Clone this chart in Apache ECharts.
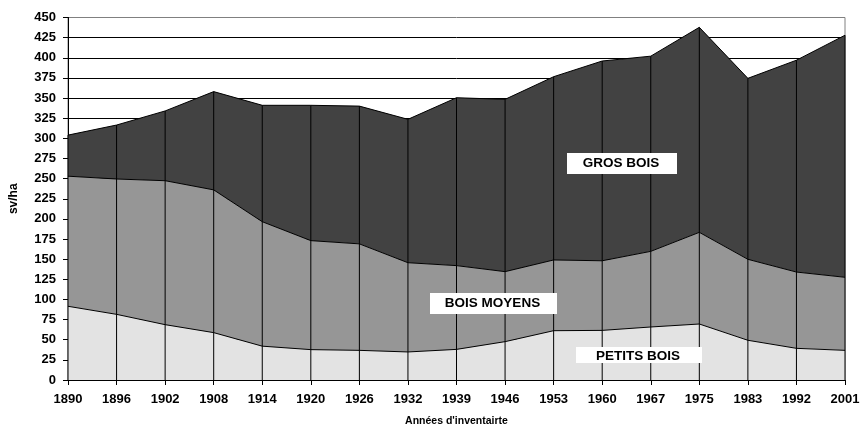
<!DOCTYPE html>
<html><head><meta charset="utf-8">
<script src="https://cdn.jsdelivr.net/npm/echarts@6/dist/echarts.min.js"></script>
<style>html,body{margin:0;padding:0;background:#fff}#c{width:860px;height:425px}</style>
</head><body><div id="c"></div>
<script>
const years = ['1890','1896','1902','1908','1914','1920','1926','1932','1939','1946','1953','1960','1967','1975','1983','1992','2001'];
const petitsBois = [91.5,81.5,68.7,58.8,42,37.7,36.8,34.8,38,47.6,61.2,61.6,65.8,69.5,49.3,39.3,36.8];
const boisMoyens = [161.5,168,178.7,177.2,154.5,135.3,132.2,110.8,104,86.9,87.8,86.4,93.9,113.8,100.5,94.7,90.7];
const grosBois = [51,67,86.6,122,144.5,168,171,178,208.4,213.9,227.5,248,242.3,254.5,224.7,263,300.5];
const seriesNames = ['PETITS BOIS','BOIS MOYENS','GROS BOIS'];
const yTicks = {min:0,max:450,interval:25};

const totals = years.map((_,i)=>petitsBois[i]+boisMoyens[i]+grosBois[i]);
const font = '"Liberation Sans", Arial, sans-serif';
const chart = echarts.init(document.getElementById('c'));

function areaSeries(name, data, color){
  return {name, type:'line', stack:'t', data, symbol:'none', smooth:false,
    lineStyle:{color:'#000', width:1}, areaStyle:{color, opacity:1}, z:2, silent:true};
}

function labelBox(x,y,w,h,text,tx,ty){
  return [{type:'rect', shape:{x,y,width:w,height:h}, style:{fill:'#fff'}, z:10},
    {type:'text', x:tx, y:ty, style:{text, font:'bold 13.5px '+font, fill:'#000', align:'center', verticalAlign:'middle'}, z:11}];
}

chart.setOption({
  animation:false,
  grid:{left:68, right:15, top:17.5, bottom:45, show:true, borderColor:'#808080', borderWidth:1, backgroundColor:'transparent', containLabel:false, outerBoundsMode:'none'},
  xAxis:{type:'category', data:years, boundaryGap:false,
    axisLine:{lineStyle:{color:'#000', width:1}},
    axisTick:{show:true, length:5, inside:false, lineStyle:{color:'#000'}},
    axisLabel:{color:'#000', fontWeight:'bold', fontSize:13, fontFamily:font, margin:13},
    splitLine:{show:false},
    name:"Années d'inventairte", nameLocation:'middle', nameGap:36,
    nameTextStyle:{color:'#000', fontWeight:'bold', fontSize:10.5, fontFamily:font}},
  yAxis:{type:'value', min:yTicks.min, max:yTicks.max, interval:yTicks.interval,
    axisLine:{show:true, lineStyle:{color:'#000', width:1}},
    axisTick:{show:true, length:5, lineStyle:{color:'#000'}},
    axisLabel:{color:'#000', fontWeight:'bold', fontSize:13, fontFamily:font, margin:12},
    splitLine:{show:true, showMaxLine:false, lineStyle:{color:'#000', width:1}},
    name:'sv/ha', nameLocation:'middle', nameGap:48, nameRotate:90,
    nameTextStyle:{color:'#000', fontWeight:'bold', fontSize:12, fontFamily:font}},
  series:[
    areaSeries(seriesNames[0], petitsBois, '#e3e3e3'),
    areaSeries(seriesNames[1], boisMoyens, '#969696'),
    areaSeries(seriesNames[2], grosBois, '#424242'),
    {type:'custom', silent:true, z:5, data: totals.map((t,i)=>[i,t]),
      renderItem:function(params, api){
        const p0 = api.coord([api.value(0), 0]);
        const p1 = api.coord([api.value(0), api.value(1)]);
        return {type:'line', shape:{x1:p0[0], y1:p0[1], x2:p1[0], y2:p1[1]}, style:{stroke:'#000', lineWidth:1}};
      }}
  ],
  graphic:[
    ...labelBox(567,153,110,21,seriesNames[2],621,163.5),
    ...labelBox(430,293,127,21,seriesNames[1],492.5,303.5),
    ...labelBox(576,347,126,16,seriesNames[0],638,356.5)
  ]
});
</script></body></html>
